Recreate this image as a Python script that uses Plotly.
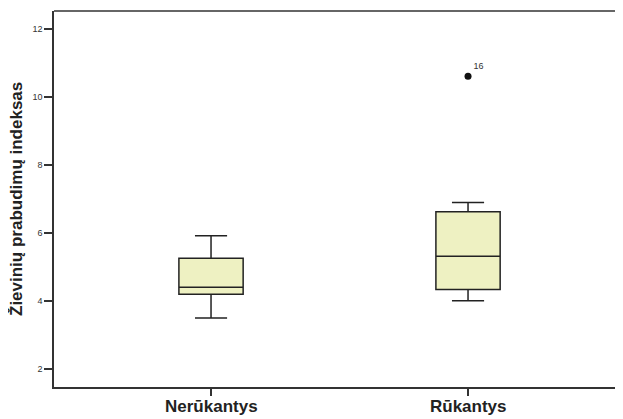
import plotly.graph_objects as go

categories = ["Nerūkantys", "Rūkantys"]
lower_whisker = [3.50, 4.01]
q1 = [4.20, 4.34]
median = [4.41, 5.32]
q3 = [5.26, 6.63]
upper_whisker = [5.92, 6.90]
outlier_cat = ["Rūkantys"]
outlier_val = [10.62]
outlier_lbl = ["16"]
y_ticks = [2, 4, 6, 8, 10, 12]

FONT = "Arial, Liberation Sans, sans-serif"
fig = go.Figure()
fig.add_trace(go.Box(
    x=categories, q1=q1, median=median, q3=q3,
    lowerfence=lower_whisker, upperfence=upper_whisker,
    fillcolor="#EEF1C2", line=dict(color="#222222", width=1.5),
    width=0.25, whiskerwidth=0.5, boxpoints=False, showlegend=False,
    hoverinfo="skip",
))
fig.add_trace(go.Scatter(
    x=outlier_cat, y=outlier_val, mode="markers+text", text=outlier_lbl,
    textposition="top right", textfont=dict(family=FONT, size=9, color="#333333"),
    marker=dict(color="#111111", size=7), showlegend=False, cliponaxis=False,
))
# body has an 8px margin in the browser: the figure is sized/offset to compensate
fig.update_layout(
    width=615, height=411,
    margin=dict(l=46, r=0, t=3, b=32),
    paper_bgcolor="white", plot_bgcolor="white",
    font=dict(family=FONT, color="#222222"),
    shapes=[dict(type="line", xref="paper", yref="paper", x0=0, x1=1, y0=1, y1=1,
                 line=dict(color="#333333", width=1.5))],
)
fig.update_xaxes(
    type="category", range=[-0.611, 1.603],
    tickvals=categories, ticktext=["", ""], showticklabels=True,
    showline=True, linecolor="#333333", linewidth=1.5,
    ticks="outside", ticklen=7, tickwidth=1.5, tickcolor="#333333",
    showgrid=False, zeroline=False, automargin=False,
)
for c in categories:
    fig.add_annotation(
        text="<b>" + c + "</b>", x=c, xref="x", yref="paper", y=0,
        xanchor="center", yanchor="middle", yshift=-19, showarrow=False,
        font=dict(family=FONT, size=17, color="#222222"),
    )
fig.update_yaxes(
    range=[1.47, 12.54], tickvals=y_ticks,
    showline=True, linecolor="#333333", linewidth=1.5,
    ticks="outside", ticklen=8, tickwidth=1.5, tickcolor="#333333",
    tickfont=dict(family=FONT, size=9, color="#333333"),
    showgrid=False, zeroline=False, automargin=False,
)
fig.add_annotation(
    text="<b>Žievinių prabudimų indeksas</b>", textangle=-90,
    xref="paper", yref="paper", x=0, y=0.5, xanchor="center", yanchor="middle",
    xshift=-38, showarrow=False,
    font=dict(family=FONT, size=17, color="#222222"),
)
fig.write_html("out.html")
